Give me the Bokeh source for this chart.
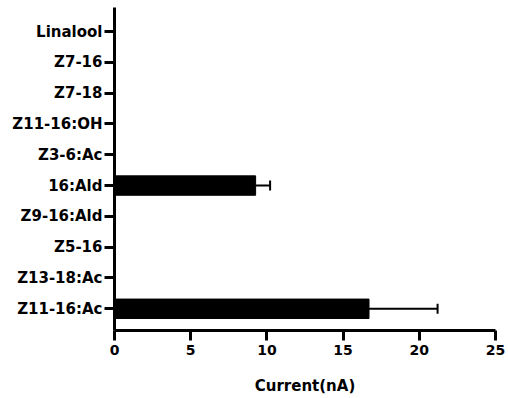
from bokeh.plotting import figure
from bokeh.models import ColumnDataSource, Range1d, FixedTicker, Whisker, TeeHead
from bokeh.embed import file_html
from bokeh.resources import INLINE

# categories listed bottom -> top
categories = ["Z11-16:Ac", "Z13-18:Ac", "Z5-16", "Z9-16:Ald", "16:Ald",
              "Z3-6:Ac", "Z11-16:OH", "Z7-18", "Z7-16", "Linalool"]
current_mean = [16.7, 0, 0, 0, 9.26, 0, 0, 0, 0, 0]
current_sem = [4.5, 0, 0, 0, 0.95, 0, 0, 0, 0, 0]
x_ticks = [0, 5, 10, 15, 20, 25]
x_label = "Current(nA)"

pos = list(range(len(categories)))
src = ColumnDataSource(dict(y=pos, mean=current_mean, sem=current_sem,
                            upper=[m + s for m, s in zip(current_mean, current_sem)]))
err_idx = [i for i, s in enumerate(current_sem) if s > 0]
err_src = ColumnDataSource(dict(y=[pos[i] for i in err_idx],
                                lower=[current_mean[i] for i in err_idx],
                                upper=[current_mean[i] + current_sem[i] for i in err_idx]))

FONT = "DejaVu Sans"

p = figure(frame_width=381, frame_height=323, output_backend="svg", toolbar_location=None,
           x_range=Range1d(0, 25), y_range=Range1d(-0.705, 9.78),
           min_border_left=114, min_border_top=7, min_border_right=13, min_border_bottom=68)
p.outline_line_color = None
p.grid.visible = False
p.background_fill_color = "white"
p.border_fill_color = "white"

p.hbar(y="y", left=0, right="mean", height=0.63, source=src,
       fill_color="black", line_color="black", line_width=1)

w = Whisker(source=err_src, base="y", lower="lower", upper="upper", dimension="width",
            line_color="black", line_width=2,
            upper_head=TeeHead(size=10, line_width=2, line_color="black"),
            lower_head=None)
p.add_layout(w)

# x axis
xa = p.xaxis[0]
xa.ticker = FixedTicker(ticks=x_ticks)
xa.minor_tick_line_color = None
xa.axis_line_width = 3
xa.major_tick_line_width = 3
xa.major_tick_out = 10
xa.major_tick_in = 0
xa.major_label_standoff = 4
xa.major_label_text_font = FONT
xa.major_label_text_font_style = "bold"
xa.major_label_text_font_size = "14px"
xa.major_label_text_color = "black"
xa.axis_label = x_label
xa.axis_label_text_font = FONT
xa.axis_label_text_font_style = "bold"
xa.axis_label_text_font_size = "15px"
xa.axis_label_text_color = "black"
xa.axis_label_standoff = 19

# y axis
ya = p.yaxis[0]
ya.ticker = FixedTicker(ticks=pos)
ya.major_label_overrides = {i: c for i, c in zip(pos, categories)}
ya.minor_tick_line_color = None
ya.axis_line_width = 3
ya.major_tick_line_width = 3
ya.major_tick_out = 10
ya.major_tick_in = 0
ya.major_label_standoff = 2
ya.major_label_text_font = FONT
ya.major_label_text_font_style = "bold"
ya.major_label_text_font_size = "15px"
ya.major_label_text_color = "black"

open("out.html", "w").write(file_html(p, INLINE))
